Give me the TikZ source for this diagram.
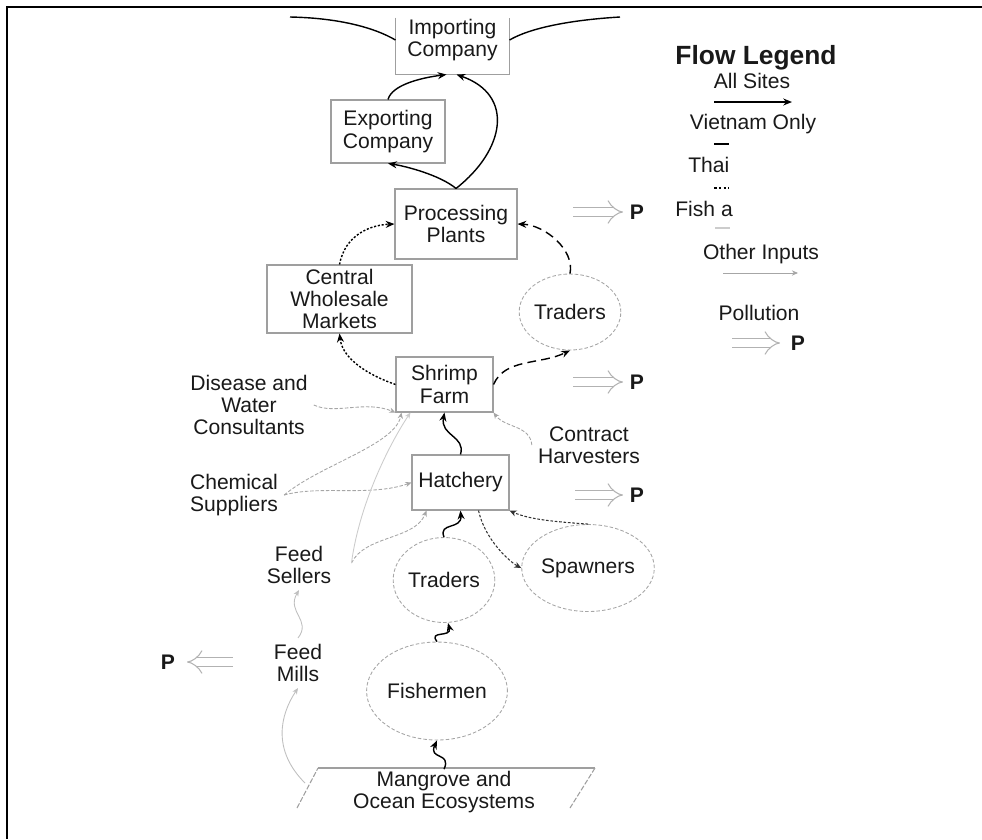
\documentclass[tikz,border=0pt]{standalone}
\usepackage{fontspec}
\setmainfont{Liberation Sans}
\usetikzlibrary{arrows.meta,shapes.geometric,calc}

\begin{document}
\begin{tikzpicture}[
    x=0.02cm, y=-0.02cm,
    font=\fontsize{12}{12.6}\selectfont,
    every node/.style={text=black!90},
    box/.style={
      draw=gray!75,
      line width=0.6pt,
      align=center,
      inner sep=0pt
    },
    actor/.style={
      ellipse,
      draw=gray!70,
      line width=0.5pt,
      dash pattern=on 2pt off 1.2pt,
      align=center,
      inner sep=0pt
    },
    lbl/.style={align=center},
    flow/.style={-{Stealth[length=5pt,width=4pt]}, line width=0.8pt},
    dflow/.style={flow, dash pattern=on 5pt off 3pt},
    tflow/.style={flow, dash pattern=on 1.2pt off 1pt},
    sflow/.style={-{Stealth[length=4pt,width=3.5pt]}, line width=0.6pt, black!80, dash pattern=on 1.5pt off 1pt},
    input/.style={-{Stealth[length=3.5pt,width=3pt]}, gray!70, line width=0.5pt},
    pollu/.style={-{Implies}, draw=gray!60, double, double distance=4.2pt, line width=0.6pt},
    pmark/.style={font=\fontsize{12}{12.6}\selectfont\bfseries}
  ]
    \useasboundingbox (0,0) rectangle (982,839);
    \draw[line width=1.2pt] (982,7) -- (7,7) -- (7,839);

    % chain boxes
    \node[box, draw=none, minimum width=2.26cm, minimum height=1.36cm] (imp) at (452.5,40) {Importing\\Company};
    \draw[gray!75, line width=0.6pt] (imp.south west) ++(0,-57) -- (imp.south west) -- (imp.south east) -- ++(0,-57);
    \node[box, minimum width=2.28cm, minimum height=1.26cm] (exp) at (388,131.5) {Exporting\\Company};
    \node[box, minimum width=2.44cm, minimum height=1.4cm] (proc) at (456,224) {Processing\\Plants};
    \node[box, minimum width=2.9cm, minimum height=1.36cm] (cen) at (339.5,299) {Central\\Wholesale\\Markets};
    \node[box, minimum width=1.94cm, minimum height=1.1cm] (shrimp) at (444.5,384.5) {Shrimp\\Farm};
    \node[box, minimum width=1.94cm, minimum height=1.1cm] (hatch) at (460.5,482.5) {Hatchery};

    \node[actor, minimum width=1.8cm, minimum height=1.52cm] (tru) at (570,312) {Traders};
    \node[actor, minimum width=1.96cm, minimum height=1.7cm] (trl) at (444,580) {Traders};
    \node[actor, minimum width=2.02cm, minimum height=1.74cm] (spw) at (588,568) {Spawners};
    \node[actor, minimum width=2.26cm, minimum height=1.96cm] (fish) at (437,691) {Fishermen};

    \draw[gray!75, line width=0.6pt, dash pattern=on 3pt off 1pt] (297,808) -- (318,768);
    \draw[gray!75, line width=0.6pt] (318,768) -- (595,768);
    \draw[gray!75, line width=0.6pt, dash pattern=on 3pt off 1pt] (595,768) -- (570,808);
    \node[lbl, minimum height=0.9cm, inner sep=0pt] (mang) at (444,792) {Mangrove and\\Ocean Ecosystems};
    \coordinate (mangl) at (305,783);

    % inputs
    \node[lbl] (dis) at (249,405) {Disease and\\Water\\Consultants};
    \node[lbl] (chem) at (234,495) {Chemical\\Suppliers};
    \node[lbl] (feeds) at (299,565) {Feed\\Sellers};
    \node[lbl] (feedm) at (298,663) {Feed\\Mills};
    \node[lbl] (con) at (589,445) {Contract\\Harvesters};

    % export ends
    \coordinate (expw) at (290,17);
    \coordinate (expe) at (620,17);
    \draw[line width=0.8pt] (imp.west) .. controls (375,28) and (340,18) .. (expw);
    \draw[line width=0.8pt] (imp.east) .. controls (530,28) and (570,20) .. (expe);

    % solid flows
    \draw[flow] (exp.north) .. controls (392,85) and (420,78) .. ($(imp.south)+(-6,0)$);
    \draw[flow] (proc.north) .. controls (440,175) and (405,166) .. (exp.south);
    \draw[flow] (proc.north) .. controls (505,150) and (515,95) .. ($(imp.south)+(4,0)$);
    \draw[flow] (hatch.north) .. controls (466,436) and (440,436) .. (shrimp.south);
    \draw[flow] (trl.north) .. controls (438,522) and (462,530) .. (hatch.south);
    \draw[flow] (fish.north) .. controls (428,630) and (452,638) .. ($(trl.south)+(4,0)$);
    \draw[flow] (mang.north) .. controls (452,752) and (428,760) .. (fish.south);

    % vietnam / thai flows
    \draw[dflow] (shrimp.east) .. controls (505,358) and (540,365) .. (tru.south);
    \draw[dflow] (tru.north) .. controls (575,250) and (545,225) .. (proc.east);
    \draw[tflow] (shrimp.west) .. controls (360,372) and (342,355) .. (cen.south);
    \draw[tflow] (cen.north) .. controls (345,235) and (370,225) .. (proc.west);
    \draw[sflow] ($(hatch.south)+(18,0)$) .. controls (485,540) and (510,562) .. (spw.west);
    \draw[sflow] (spw.north) .. controls (560,522) and (530,520) .. (hatch.south east);

    % other inputs
    \draw[input, dash pattern=on 2pt off 1pt] (dis.east) .. controls (335,415) and (365,400) .. (shrimp.south west);
    \draw[input, dash pattern=on 2pt off 1pt] (chem.east) .. controls (320,465) and (395,445) .. ($(shrimp.south west)+(6,0)$);
    \draw[input, dash pattern=on 2pt off 1pt] (chem.east) .. controls (320,485) and (370,497) .. (hatch.west);
    \draw[input, dash pattern=on 2pt off 1pt] ($(feeds.east)+(14,-2)$) .. controls (365,535) and (415,540) .. ($(hatch.south west)+(15,0)$);
    \draw[input, gray!40] ($(feeds.east)+(14,-2)$) .. controls (360,500) and (392,440) .. ($(shrimp.south west)+(15,0)$);
    \draw[input, dash pattern=on 2pt off 1pt] (con.west) .. controls (530,425) and (505,428) .. (shrimp.south east);
    \draw[input, gray!50] (feedm.north) .. controls (312,620) and (286,612) .. (feeds.south);
    \draw[input, gray!50] (mangl) .. controls (272,750) and (280,715) .. (feedm.south);

    % pollution
    \coordinate (pa1) at (573,212);
    \coordinate (pa2) at (623,212);
    \coordinate (pb1) at (573,382);
    \coordinate (pb2) at (623,382);
    \coordinate (pc1) at (575,495);
    \coordinate (pc2) at (623,495);
    \coordinate (pd1) at (233,662);
    \coordinate (pd2) at (187,662);
    \draw[pollu] (pa1) -- (pa2);
    \draw[pollu] (pb1) -- (pb2);
    \draw[pollu] (pc1) -- (pc2);
    \draw[pollu] (pd1) -- (pd2);
    \node[pmark] (pa) at (637,212) {P};
    \node[pmark] (pb) at (637,382) {P};
    \node[pmark] (pc) at (637,495) {P};
    \node[pmark] (pd) at (168,662) {P};

    % legend
    \node[font=\fontsize{15}{18}\selectfont\bfseries] (leg) at (756,58) {Flow Legend};
    \node (lall) at (752,81) {All Sites};
    \coordinate (la1) at (714,102);
    \coordinate (la2) at (792,102);
    \draw[flow] (la1) -- (la2);
    \node (lvn) at (753,124) {Vietnam Only};
    \coordinate (lb1) at (714,144);
    \coordinate (lb2) at (729,144);
    \draw[line width=0.8pt] (lb1) -- (lb2);
    \node[anchor=west, inner xsep=0pt] (lth) at (688,165) {Thai};
    \coordinate (lc1) at (714,188);
    \coordinate (lc2) at (729,188);
    \draw[line width=0.8pt, dash pattern=on 1.5pt off 1.2pt] (lc1) -- (lc2);
    \node[anchor=west, inner xsep=0pt] (lfi) at (675,209) {Fish a};
    \coordinate (ld1) at (715,228);
    \coordinate (ld2) at (730,228);
    \draw[gray!40, line width=0.6pt] (ld1) -- (ld2);
    \node (loi) at (761,254) {Other Inputs};
    \coordinate (le1) at (723,273);
    \coordinate (le2) at (798,273);
    \draw[input] (le1) -- (le2);
    \node (lpo) at (759,313) {Pollution};
    \coordinate (lf1) at (732,343);
    \coordinate (lf2) at (780,343);
    \draw[pollu] (lf1) -- (lf2);
    \node[pmark] (lp) at (798,343) {P};
  \end{tikzpicture}
\end{document}
